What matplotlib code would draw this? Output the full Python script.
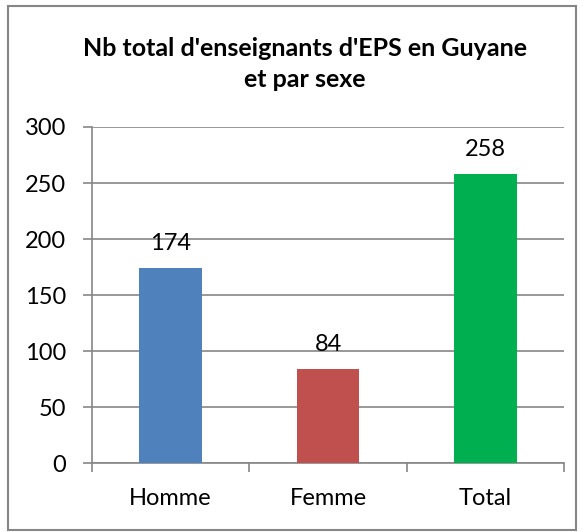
import matplotlib
matplotlib.use("Agg")
import matplotlib.pyplot as plt
from matplotlib.patches import Rectangle

categories = ["Homme", "Femme", "Total"]
values = [174, 84, 258]
colors = ["#4F81BD", "#C0504D", "#00B050"]
yticks = [0, 50, 100, 150, 200, 250, 300]
title = "Nb total d'enseignants d'EPS en Guyane\net par sexe"

plt.rcParams['font.family'] = ['Lato', 'DejaVu Sans']
W, H = 584, 532
fig = plt.figure(figsize=(W/100, H/100), dpi=100)
fig.patches.append(Rectangle((8/W, 2/H), (576-8)/W, (524)/H, transform=fig.transFigure,
                             fill=False, edgecolor="#868686", linewidth=1.5))

ax = fig.add_axes([92/W, 1-463/H, (564-92)/W, (463-127)/H])
x = list(range(len(categories)))
ax.bar(x, values, width=0.4, color=colors, zorder=3)
ax.set_xlim(-0.5, 2.5)
ax.set_ylim(0, 300)
ax.set_yticks(yticks)
ax.set_yticklabels([str(t) for t in yticks], fontsize=17)
ax.yaxis.grid(True, color="#868686", linewidth=1.2, zorder=0)
for s in ["top", "right"]:
    ax.spines[s].set_visible(False)
for s in ["left", "bottom"]:
    ax.spines[s].set_color("#868686")
    ax.spines[s].set_linewidth(1.2)
ax.tick_params(axis="y", length=6.5, color="#868686", width=1.2, pad=12)
ax.set_xticks([-0.5, 0.5, 1.5, 2.5])
ax.set_xticklabels([])
ax.tick_params(axis="x", which="major", length=6.5, color="#868686", width=1.2)
ax.set_xticks(x, minor=True)
ax.set_xticklabels(categories, minor=True, fontsize=17)
ax.tick_params(axis="x", which="minor", length=0, pad=18)
for xi, v in zip(x, values):
    ax.annotate(str(v), (xi, v), xytext=(0, 10), textcoords="offset points",
                ha="center", va="bottom", fontsize=17)
fig.text(305/W, 1-64/H, title, ha="center", va="center", fontsize=18,
         fontweight="bold", linespacing=1.4)
fig.savefig("out.png", dpi=100)
